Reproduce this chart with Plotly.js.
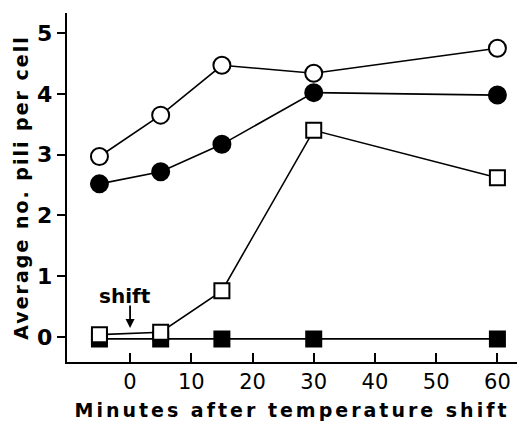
<!DOCTYPE html>
<html>
<head>
<meta charset="utf-8">
<script src="https://cdn.plot.ly/plotly-3.0.1.min.js"></script>
<style>
html,body{margin:0;padding:0;background:#fff;}
#chart{width:520px;height:428px;}
.xtitle{letter-spacing:3px;}
.ytitle{letter-spacing:2px;}
</style>
</head>
<body>
<div id="chart"></div>
<script>
// Minutes after temperature shift
const minutes = [-5, 5, 15, 30, 60];
// Average number of pili per cell
const openCircles   = [2.97, 3.65, 4.47, 4.34, 4.75];
const filledCircles = [2.52, 2.72, 3.17, 4.02, 3.98];
const openSquares   = [0.04, 0.08, 0.76, 3.40, 2.62];
const filledSquares = [-0.03, -0.03, -0.03, -0.03, -0.03];
const xTicks = [0, 10, 20, 30, 40, 50, 60];
const yTicks = [0, 1, 2, 3, 4, 5];

const FONT = 'DejaVu Sans';
function series(y, symbol, fill) {
  return {
    x: minutes, y: y, type: 'scatter', mode: 'lines+markers',
    line: {color: '#000', width: 1.6},
    marker: {symbol: symbol, size: symbol === 'circle' ? 17 : 15, color: fill,
             line: {color: '#000', width: 2}},
    showlegend: false, hoverinfo: 'skip'
  };
}
const data = [
  series(filledSquares, 'square', '#000'),
  series(openSquares, 'square', '#fff'),
  series(filledCircles, 'circle', '#000'),
  series(openCircles, 'circle', '#fff')
];
const layout = {
  width: 520, height: 428,
  margin: {l: 67, r: 3, t: 13, b: 66},
  paper_bgcolor: '#fff', plot_bgcolor: '#fff',
  showlegend: false,
  xaxis: {
    range: [-10.3, 63.2], tickvals: xTicks, ticktext: xTicks.map(String),
    ticks: 'inside', ticklen: 9, tickwidth: 2, tickcolor: '#000',
    showline: true, linewidth: 2.2, linecolor: '#000', showgrid: false, zeroline: false,
    tickfont: {family: FONT, size: 21, color: '#000'},
    title: {text: 'Minutes after temperature shift', standoff: 10,
            font: {family: FONT, size: 19, color: '#000', weight: 'bold'}}
  },
  yaxis: {
    range: [-0.41, 5.33], tickvals: yTicks, ticktext: yTicks.map(String),
    ticks: 'outside', ticklen: 8, tickwidth: 2, tickcolor: '#000',
    showline: true, linewidth: 2.2, linecolor: '#000', showgrid: false, zeroline: false,
    tickfont: {family: FONT, size: 22, color: '#000', weight: 'bold'},
    title: {text: 'Average no. pili per cell', standoff: 4,
            font: {family: FONT, size: 19, color: '#000', weight: 'bold'}}
  },
  annotations: [
    {x: 0, y: 0.15, xref: 'x', yref: 'y', text: '', showarrow: true,
     ax: 0, ay: -24, arrowhead: 2, arrowsize: 1, arrowwidth: 1.8,
     arrowcolor: '#000', standoff: 0},
    {x: 0, y: 0.67, xref: 'x', yref: 'y', text: 'shift', showarrow: false,
     xshift: -5, font: {family: FONT, size: 20, color: '#000', weight: 'bold'}}
  ]
};
Plotly.newPlot('chart', data, layout, {staticPlot: true});
</script>
</body>
</html>
